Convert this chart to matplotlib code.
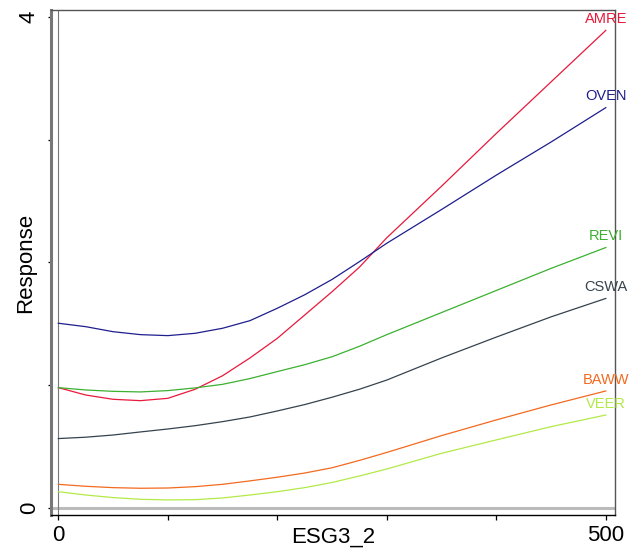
import matplotlib
matplotlib.use('Agg')
import matplotlib.pyplot as plt

# values (finer steps where the curves bend)
esg = [0, 25, 50, 75, 100, 125, 150, 175, 200, 225, 250, 275, 300, 350, 400, 450, 500]
amre = [0.978, 0.918, 0.883, 0.872, 0.891, 0.965, 1.075, 1.22, 1.38, 1.57, 1.76, 1.96, 2.20, 2.62, 3.05, 3.47, 3.89]
oven = [1.503, 1.475, 1.434, 1.41, 1.402, 1.421, 1.462, 1.524, 1.625, 1.735, 1.86, 2.005, 2.155, 2.43, 2.71, 2.98, 3.26]
revi = [0.978, 0.959, 0.948, 0.943, 0.954, 0.976, 1.005, 1.052, 1.109, 1.165, 1.23, 1.315, 1.41, 1.59, 1.77, 1.95, 2.12]
cswa = [0.563, 0.574, 0.592, 0.617, 0.641, 0.668, 0.701, 0.739, 0.788, 0.84, 0.90, 0.965, 1.04, 1.22, 1.39, 1.555, 1.705]
baww = [0.19, 0.174, 0.163, 0.158, 0.16, 0.171, 0.19, 0.218, 0.248, 0.282, 0.325, 0.385, 0.45, 0.587, 0.715, 0.837, 0.951]
veer = [0.13, 0.103, 0.082, 0.068, 0.063, 0.065, 0.079, 0.103, 0.13, 0.163, 0.205, 0.258, 0.315, 0.443, 0.552, 0.66, 0.755]

species = {'AMRE': (amre, '#E8193C'),
           'OVEN': (oven, '#1E1E8E'),
           'REVI': (revi, '#3CB030'),
           'CSWA': (cswa, '#35434F'),
           'BAWW': (baww, '#F26A1E'),
           'VEER': (veer, '#B2EA48')}

plt.rcParams['font.family'] = ['Liberation Sans', 'DejaVu Sans']

fig = plt.figure(figsize=(6.36, 5.52), dpi=100)
ax = fig.add_axes([51 / 636, 1 - 515 / 552, 564 / 636, 505 / 552])
ax.set_xlim(-6.7, 508.4)
ax.set_ylim(-0.06, 4.056)

# reference lines at x=0 and y=0
ax.axhline(0, color='#bbbbbb', lw=2.2, zorder=1)
ax.axvline(0, color='#777777', lw=0.8, zorder=1)

for name, (vals, col) in species.items():
    ax.plot(esg, vals, color=col, lw=0.9, zorder=3)
    ax.annotate(name, (esg[-1], vals[-1]), xytext=(0, 3), textcoords='offset points',
                ha='center', va='bottom', color=col, fontsize=10.5)

# axis styling
for side in ['top', 'right']:
    ax.spines[side].set_color('#555555')
    ax.spines[side].set_linewidth(1.0)
ax.spines['left'].set_color('#777777')
ax.spines['left'].set_linewidth(2.2)
ax.spines['bottom'].set_color('black')
ax.spines['bottom'].set_linewidth(1.0)

ax.set_xticks([0, 100, 200, 300, 400, 500])
ax.set_xticklabels(['0', '', '', '', '', '500'])
ax.set_yticks([0, 1, 2, 3, 4])
ax.set_yticklabels(['0', '', '', '', '4'])
ax.tick_params(axis='both', direction='out', width=0.9, labelsize=16, color='black')
ax.tick_params(axis='x', length=3.5, pad=4)
ax.tick_params(axis='y', length=2.5, pad=5.5)
for lab in ax.get_yticklabels():
    lab.set_rotation(90)
    lab.set_va('center')

ax.set_xlabel('ESG3_2', fontsize=16)
ax.set_ylabel('Response', fontsize=16)
ax.xaxis.set_label_coords(0.5, -0.024)
ax.yaxis.set_label_coords(-0.026, 0.5)

plt.savefig('out.png', dpi=100)
